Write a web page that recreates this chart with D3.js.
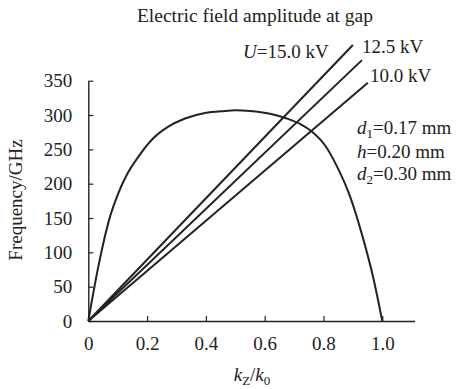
<!DOCTYPE html>
<html>
<head>
<meta charset="utf-8">
<script src="https://cdn.jsdelivr.net/npm/d3@7"></script>
<style>
  body { margin: 0; background: #fff; }
  svg text { font-family: "Liberation Serif", "Times New Roman", serif; fill: #222; }
</style>
</head>
<body>
<div id="chart"></div>
<script>
// dispersion curve
var kRatio   = [0, 0.034, 0.074, 0.102, 0.131, 0.17, 0.216, 0.272, 0.329, 0.397, 0.465, 0.5, 0.55, 0.618, 0.675, 0.72, 0.76, 0.805, 0.845, 0.89, 0.935, 0.97, 1.0];
var freqCurve = [0, 79, 152, 186, 213, 239, 264, 283, 295, 303, 306, 307, 306, 302, 295, 287, 276, 256, 226, 182, 120, 62, 0];

// beam lines, each from origin to an end point
var voltLabels = ["U=15.0 kV", "12.5 kV", "10.0 kV"];
var lineEndK = [0.900, 0.931, 0.951];
var lineEndF = [402, 380, 347];

var xTicks = [0, 0.2, 0.4, 0.6, 0.8, 1.0];
var yTicks = [0, 50, 100, 150, 200, 250, 300, 350];

var width = 457, height = 389;
var svg = d3.select("#chart").append("svg")
    .attr("width", width)
    .attr("height", height);

var x = d3.scaleLinear().domain([0, 1.11]).range([88.3, 414.6]);
var y = d3.scaleLinear().domain([0, 350]).range([321, 80.7]);

var ink = "#222";

// axes
var xAxis = svg.append("g")
    .attr("transform", "translate(0," + y(0) + ")")
    .call(d3.axisBottom(x).tickValues(xTicks).tickSizeInner(-5).tickSizeOuter(0).tickPadding(15.5)
        .tickFormat(function(d){ return d === 0 ? "0" : d3.format(".1f")(d); }));
var yAxis = svg.append("g")
    .attr("transform", "translate(" + x(0) + ",0)")
    .call(d3.axisLeft(y).tickValues(yTicks).tickSizeInner(-5).tickSizeOuter(0).tickPadding(16));

[xAxis, yAxis].forEach(function(a){
  a.select(".domain").attr("stroke", ink).attr("stroke-width", 1.4);
  a.selectAll(".tick line").attr("stroke", ink).attr("stroke-width", 1.2);
  a.selectAll(".tick text")
    .style("font-family", '"Liberation Serif", "Times New Roman", serif')
    .style("font-size", "19px").attr("fill", ink);
});

// curve
var line = d3.line()
    .x(function(d){ return x(d[0]); })
    .y(function(d){ return y(d[1]); })
    .curve(d3.curveMonotoneX);

svg.append("path")
    .datum(kRatio.map(function(k, i){ return [k, freqCurve[i]]; }))
    .attr("d", line)
    .attr("fill", "none")
    .attr("stroke", ink)
    .attr("stroke-width", 2);

// beam lines
svg.selectAll(".beam")
    .data(lineEndK)
    .enter().append("path")
    .attr("class", "beam")
    .attr("d", function(k, i){ return d3.line()([[x(0), y(0)], [x(k), y(lineEndF[i])]]); })
    .attr("fill", "none")
    .attr("stroke", ink)
    .attr("stroke-width", 2);

// title
svg.append("text")
    .attr("x", 255).attr("y", 22)
    .attr("text-anchor", "middle")
    .style("font-size", "19.5px")
    .text("Electric field amplitude at gap");

// axis titles
svg.append("text")
    .attr("transform", "translate(22,200) rotate(-90)")
    .attr("text-anchor", "middle")
    .style("font-size", "19px")
    .text("Frequency/GHz");

var xl = svg.append("text")
    .attr("x", 252).attr("y", 381)
    .attr("text-anchor", "middle")
    .style("font-size", "19px");
xl.append("tspan").style("font-style", "italic").text("k");
xl.append("tspan").attr("dy", 4).style("font-size", "13px").text("Z");
xl.append("tspan").attr("dy", -4).text("/");
xl.append("tspan").style("font-style", "italic").text("k");
xl.append("tspan").attr("dy", 4).style("font-size", "13px").text("0");

// voltage labels
var vPos = [[243, 58], [362, 53], [370, 82]];
voltLabels.forEach(function(lbl, i){
  var t = svg.append("text").attr("x", vPos[i][0]).attr("y", vPos[i][1]).style("font-size", "19px");
  if (lbl.indexOf("U=") === 0) {
    t.append("tspan").style("font-style", "italic").text("U");
    t.append("tspan").text(lbl.slice(1));
  } else {
    t.text(lbl);
  }
});

// geometry labels
var geoSym = ["d", "h", "d"];
var geoSub = ["1", "", "2"];
var geoVal = ["=0.17 mm", "=0.20 mm", "=0.30 mm"];
var geoY = [134, 158, 180];
geoSym.forEach(function(s, i){
  var t = svg.append("text").attr("x", 357).attr("y", geoY[i]).style("font-size", "19px");
  t.append("tspan").style("font-style", "italic").text(s);
  if (geoSub[i]) {
    t.append("tspan").attr("dy", 4).style("font-size", "13px").text(geoSub[i]);
    t.append("tspan").attr("dy", -4).text(geoVal[i]);
  } else {
    t.append("tspan").text(geoVal[i]);
  }
});
</script>
</body>
</html>
